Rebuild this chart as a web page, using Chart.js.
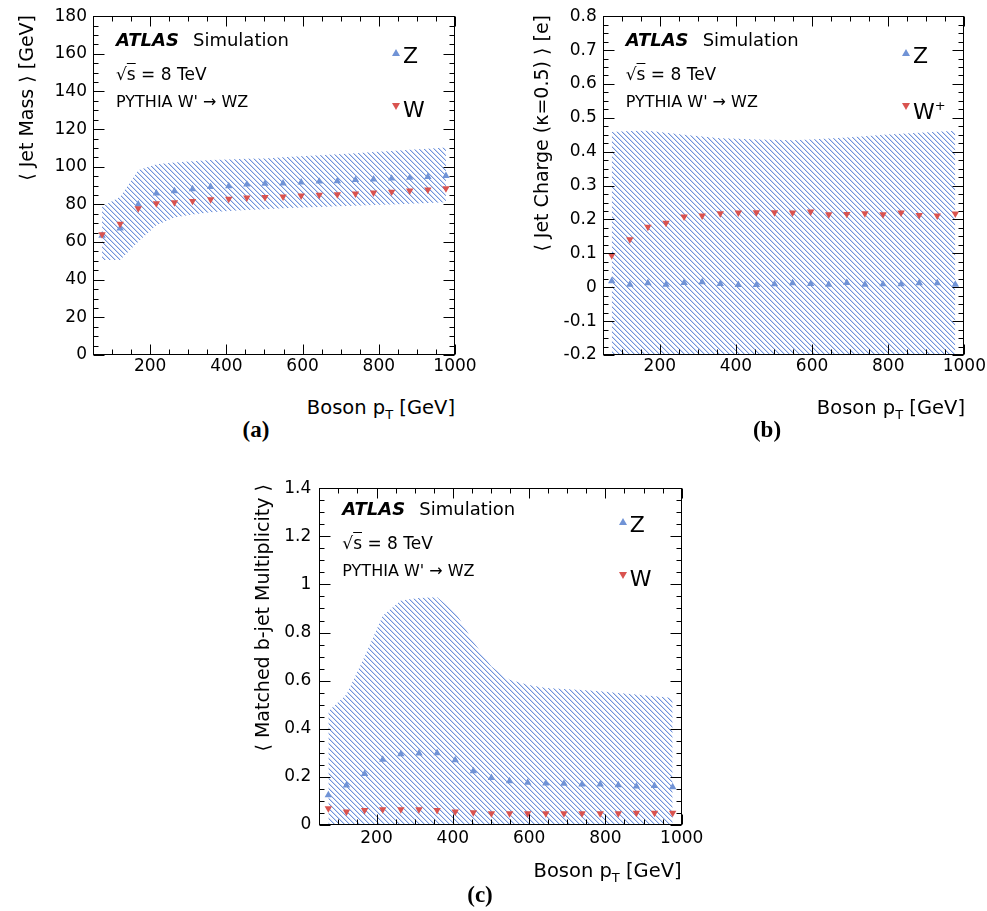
<!DOCTYPE html>
<html>
<head>
<meta charset="utf-8">
<script src="https://cdn.jsdelivr.net/npm/chart.js@4.4.0/dist/chart.umd.min.js"></script>
<style>
  body { margin: 0; background: #fff; width: 987px; height: 911px; position: relative; overflow: hidden; font-family: "DejaVu Sans", sans-serif; color: #000; }
  canvas { position: absolute; }
  .t { position: absolute; white-space: nowrap; line-height: 1; }
  .atlas { font-weight: bold; font-style: italic; }
  .ytitle { position: absolute; width: 400px; text-align: right; line-height: 24px; font-size: 19px; transform-origin: 0 0; transform: rotate(-90deg); white-space: nowrap; }
  .cap { position: absolute; font-family: "Liberation Serif", serif; font-weight: bold; font-size: 23px; line-height: 1; width: 60px; text-align: center; }
  .tri { position: absolute; width: 0; height: 0; border-left: 4px solid transparent; border-right: 4px solid transparent; }
  .up { border-bottom: 7px solid #7093d6; }
  .down { border-top: 7px solid #d9534f; }
  sub { font-size: 13px; vertical-align: -5px; }
  sup { font-size: 13px; vertical-align: 9px; }
</style>
</head>
<body>
<canvas id="chartMass" width="490" height="390" style="left:0px;top:0px"></canvas>
<canvas id="chartCharge" width="487" height="390" style="left:500px;top:0px"></canvas>
<canvas id="chartBjet" width="470" height="390" style="left:250px;top:470px"></canvas>

<script>
// bin centres in boson pT [GeV]
const ptBins = [73.75, 121.25, 168.75, 216.25, 263.75, 311.25, 358.75, 406.25, 453.75, 501.25,
                548.75, 596.25, 643.75, 691.25, 738.75, 786.25, 833.75, 881.25, 928.75, 976.25];
const xTicks = [200, 400, 600, 800, 1000];

// (a) jet mass
const massZ = [63.4, 67.3, 80.0, 85.9, 87.1, 88.2, 89.4, 89.8, 90.6, 91.0, 91.2, 91.7, 92.2, 92.4, 93.0, 93.3, 93.8, 94.2, 94.7, 95.2];
const massW = [64.1, 69.6, 77.9, 80.5, 81.1, 81.8, 82.7, 82.9, 83.6, 83.9, 84.1, 84.6, 85.0, 85.3, 85.7, 86.2, 86.7, 87.3, 87.8, 88.5];
const massBandHi = [78.8, 84.1, 98.2, 101.3, 102.3, 103.0, 103.6, 103.9, 104.3, 104.4, 105.0, 105.6, 106.1, 106.7, 107.2, 107.8, 108.4, 109.0, 109.6, 110.2];
const massBandLo = [50.5, 50.5, 60.2, 69.0, 73.0, 74.7, 75.8, 76.5, 77.0, 77.5, 77.9, 78.3, 78.6, 79.0, 79.3, 79.7, 80.0, 80.4, 80.7, 81.1];
const massTicks = [0, 20, 40, 60, 80, 100, 120, 140, 160, 180];

// (b) jet charge
const chargeZ = [0.018, 0.008, 0.012, 0.008, 0.013, 0.015, 0.010, 0.007, 0.007, 0.009, 0.012, 0.010, 0.008, 0.013, 0.008, 0.009, 0.009, 0.012, 0.012, 0.008];
const chargeW = [0.094, 0.141, 0.178, 0.190, 0.208, 0.211, 0.218, 0.220, 0.221, 0.221, 0.220, 0.223, 0.215, 0.216, 0.218, 0.215, 0.220, 0.213, 0.211, 0.217];
const chargeBandHi = [0.458, 0.461, 0.462, 0.456, 0.450, 0.445, 0.440, 0.438, 0.436, 0.435, 0.434, 0.436, 0.439, 0.442, 0.446, 0.450, 0.453, 0.456, 0.459, 0.462];
const chargeBandLo = [-0.42, -0.44, -0.44, -0.44, -0.42, -0.42, -0.42, -0.42, -0.42, -0.42, -0.41, -0.42, -0.42, -0.42, -0.43, -0.43, -0.44, -0.43, -0.44, -0.45];
const chargeTicks = [-0.2, -0.1, 0, 0.1, 0.2, 0.3, 0.4, 0.5, 0.6, 0.7, 0.8];

// (c) matched b-jet multiplicity
const bjetZ = [0.124, 0.165, 0.213, 0.272, 0.295, 0.298, 0.299, 0.270, 0.224, 0.196, 0.183, 0.176, 0.173, 0.172, 0.169, 0.169, 0.166, 0.161, 0.163, 0.158];
const bjetW = [0.069, 0.055, 0.062, 0.065, 0.065, 0.065, 0.062, 0.055, 0.052, 0.048, 0.048, 0.048, 0.048, 0.048, 0.048, 0.048, 0.048, 0.050, 0.050, 0.050];
const bjetBandHi = [0.473, 0.542, 0.700, 0.870, 0.933, 0.944, 0.947, 0.885, 0.762, 0.659, 0.604, 0.583, 0.569, 0.565, 0.561, 0.556, 0.549, 0.542, 0.535, 0.528];
const bjetBandLo = [-0.22, -0.21, -0.27, -0.33, -0.34, -0.35, -0.35, -0.35, -0.31, -0.27, -0.24, -0.23, -0.22, -0.22, -0.22, -0.22, -0.22, -0.22, -0.21, -0.21];
const bjetTicks = [0, 0.2, 0.4, 0.6, 0.8, 1, 1.2, 1.4];

const blue = "#7093d6";
const red = "#d9534f";

// hachures bleues (diagonale descendante)
function makeHatch() {
  const n = 5;
  const c = document.createElement("canvas");
  c.width = n;
  c.height = n;
  const g = c.getContext("2d");
  for (let i = 0; i < n; i++) {
    g.fillStyle = "rgba(112,147,220,1)";
    g.fillRect(i, i, 1, 1);
    g.fillStyle = "rgba(112,147,220,0.35)";
    g.fillRect((i + 1) % n, i, 1, 1);
  }
  return g.createPattern(c, "repeat");
}
const hatch = makeHatch();

// cadre + petites graduations vers l'intérieur (style ROOT)
const framePlugin = {
  id: "frame",
  afterDatasetsDraw(chart, args, opts) {
    const { ctx, chartArea: a, scales } = chart;
    const x = scales.x, y = scales.y;
    const L = Math.round(a.left) + 0.5, R = Math.round(a.right) - 0.5;
    const T = Math.round(a.top) + 0.5, B = Math.round(a.bottom) - 0.5;
    ctx.save();
    ctx.strokeStyle = "#000";
    ctx.lineWidth = 1;
    ctx.strokeRect(L, T, R - L, B - T);
    ctx.beginPath();
    const isMajor = (v, major) => Math.abs(v / major - Math.round(v / major)) < 1e-6;
    for (let n = Math.ceil(x.min / opts.xMinor); n * opts.xMinor <= x.max + 1e-9; n++) {
      const v = n * opts.xMinor;
      const px = Math.round(x.getPixelForValue(v)) + 0.5;
      const len = isMajor(v, opts.xMajor) ? 10 : 5;
      ctx.moveTo(px, B); ctx.lineTo(px, B - len);
      ctx.moveTo(px, T); ctx.lineTo(px, T + len);
    }
    for (let n = Math.ceil(y.min / opts.yMinor - 1e-6); n * opts.yMinor <= y.max + 1e-9; n++) {
      const v = n * opts.yMinor;
      const py = Math.round(y.getPixelForValue(v)) + 0.5;
      const len = isMajor(v, opts.yMajor) ? 11 : 5;
      ctx.moveTo(L, py); ctx.lineTo(L + len, py);
      ctx.moveTo(R, py); ctx.lineTo(R - len, py);
    }
    ctx.stroke();
    ctx.restore();
  }
};

const toPoints = (arr) => ptBins.map((x, i) => ({ x: x, y: arr[i] }));
const fmt = (v) => String(Math.round(v * 100) / 100);

function makeChart(id, cfg) {
  const tickFont = { family: "DejaVu Sans", size: 17 };
  return new Chart(document.getElementById(id), {
    type: "line",
    data: {
      datasets: [
        { data: toPoints(cfg.hi), fill: "+1", backgroundColor: hatch, borderWidth: 0, pointRadius: 0, order: 10 },
        { data: toPoints(cfg.lo), fill: false, borderWidth: 0, pointRadius: 0, order: 10 },
        { label: "Z", data: toPoints(cfg.z), showLine: false, pointStyle: "triangle", pointRadius: 4.3, pointBorderWidth: 0, pointBackgroundColor: blue, order: 1 },
        { label: cfg.wName, data: toPoints(cfg.w), showLine: false, pointStyle: "triangle", pointRotation: 180, pointRadius: 4.3, pointBorderWidth: 0, pointBackgroundColor: red, order: 0 }
      ]
    },
    options: {
      responsive: false,
      animation: false,
      layout: { padding: { top: cfg.padTop, right: cfg.padRight, left: 0, bottom: 0 } },
      plugins: {
        legend: { display: false },
        tooltip: { enabled: false },
        frame: cfg.frame
      },
      scales: {
        x: {
          type: "linear",
          min: 50,
          max: 1000,
          grid: { display: false, drawTicks: false },
          border: { display: false },
          afterBuildTicks: (s) => { s.ticks = xTicks.map((v) => ({ value: v })); },
          afterFit: (s) => { s.height = 35; },
          ticks: { font: tickFont, color: "#000", padding: cfg.xPad, maxRotation: 0, callback: fmt }
        },
        y: {
          type: "linear",
          min: cfg.yTicks[0],
          max: cfg.yTicks[cfg.yTicks.length - 1],
          grid: { display: false, drawTicks: false },
          border: { display: false },
          afterBuildTicks: (s) => { s.ticks = cfg.yTicks.map((v) => ({ value: v })); },
          afterFit: (s) => { s.width = cfg.yWidth; },
          ticks: { font: tickFont, color: "#000", padding: cfg.yPad, callback: fmt }
        }
      }
    },
    plugins: [framePlugin]
  });
}

makeChart("chartMass", {
  hi: massBandHi, lo: massBandLo, z: massZ, w: massW, wName: "W", yTicks: massTicks,
  yWidth: 93, padTop: 16, padRight: 35, xPad: 1, yPad: 6,
  frame: { xMinor: 50, xMajor: 200, yMinor: 5, yMajor: 20 }
});
makeChart("chartCharge", {
  hi: chargeBandHi, lo: chargeBandLo, z: chargeZ, w: chargeW, wName: "W+", yTicks: chargeTicks,
  yWidth: 102.7, padTop: 16, padRight: 22, xPad: 1, yPad: 6,
  frame: { xMinor: 50, xMajor: 200, yMinor: 0.025, yMajor: 0.1 }
});
makeChart("chartBjet", {
  hi: bjetBandHi, lo: bjetBandLo, z: bjetZ, w: bjetW, wName: "W", yTicks: bjetTicks,
  yWidth: 69.3, padTop: 15, padRight: 38.3, xPad: 3, yPad: 8,
  frame: { xMinor: 50, xMajor: 200, yMinor: 0.05, yMajor: 0.2 }
});

// textes en HTML (positions en pixels de la page)
function addText(html, cls, left, top, extra) {
  const d = document.createElement("div");
  d.className = cls;
  d.innerHTML = html;
  d.style.left = left + "px";
  d.style.top = top + "px";
  if (extra) Object.assign(d.style, extra);
  document.body.appendChild(d);
  return d;
}

function addPanel(p) {
  // p.left / p.top / p.right / p.bottom = cadre du graphique
  const ox = p.left + 23, oy = p.top;
  addText("ATLAS", "t atlas", ox, oy + 14.8, { fontSize: "18px" });
  addText("Simulation", "t", ox + 77, oy + 14.8, { fontSize: "18px" });
  addText('&radic;<span style="text-decoration:overline">s</span> = 8 TeV', "t", ox, oy + 49.6, { fontSize: "17px" });
  addText("PYTHIA W' &rarr; WZ", "t", ox, oy + 77.5, { fontSize: "16px" });
  // légende
  const lx = p.right - 59;
  addText("", "tri up", lx - 4, oy + 33);
  addText("Z", "t", lx + 7, oy + 29.4, { fontSize: "22px" });
  addText("", "tri down", lx - 4, oy + 87);
  addText(p.wLabel, "t", lx + 7, oy + 83.4, { fontSize: "22px" });
  // titres des axes
  addText("Boson p<sub>T</sub> [GeV]", "t", 0, p.xTitleBase - 16, { fontSize: "19.5px", width: p.right + "px", textAlign: "right", left: "0px" });
  addText(p.yTitle, "ytitle", p.yTitleX - 12, p.top - 1 + 400);
  addText(p.caption, "cap", p.capX - 30, p.capBase - 19.5);
}

addPanel({ left: 93, top: 16, right: 455, bottom: 355, wLabel: "W", yTitle: "&#x27E8; Jet Mass &#x27E9; [GeV]", yTitleX: 26, xTitleBase: 414, caption: "(a)", capX: 256, capBase: 437 });
addPanel({ left: 602.7, top: 16, right: 965, bottom: 355, wLabel: "W<sup>+</sup>", yTitle: "&#x27E8; Jet Charge (&kappa;=0.5) &#x27E9; [e]", yTitleX: 541, xTitleBase: 414, caption: "(b)", capX: 767, capBase: 437 });
addPanel({ left: 319.3, top: 485, right: 681.7, bottom: 825, wLabel: "W", yTitle: "&#x27E8; Matched b-jet Multiplicity &#x27E9;", yTitleX: 262, xTitleBase: 877, caption: "(c)", capX: 480, capBase: 902 });
</script>
</body>
</html>
